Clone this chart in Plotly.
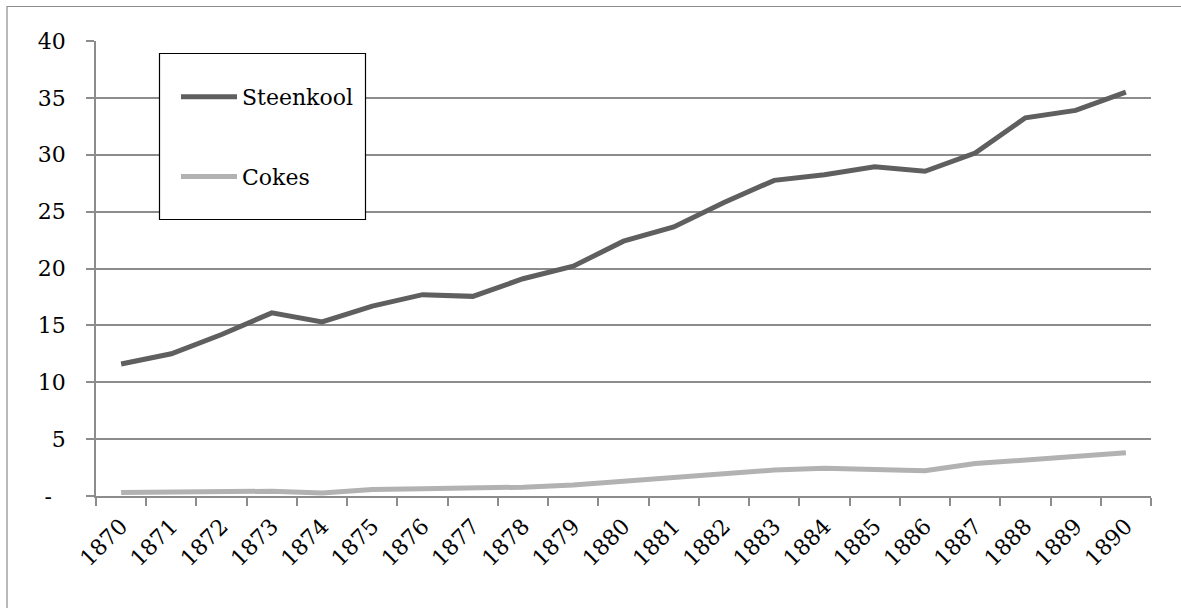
import plotly.graph_objects as go

# Jaarlijkse productie (in miljoenen)
years = [str(y) for y in range(1870, 1891)]
steenkool = [11.6, 12.5, 14.2, 16.1, 15.3, 16.7, 17.7, 17.55, 19.1, 20.2, 22.4,
             23.65, 25.8, 27.75, 28.25, 28.95, 28.55, 30.15, 33.25, 33.9, 35.5]
cokes = [0.30, 0.33, 0.39, 0.42, 0.27, 0.57, 0.63, 0.66, 0.78, 0.96, 1.27,
         1.62, 2.0, 2.28, 2.43, 2.37, 2.22, 2.85, 3.15, 3.42, 3.8]

y_ticks = [0, 5, 10, 15, 20, 25, 30, 35, 40]
y_ticktext = ["-\u00a0\u00a0"] + [str(v) for v in y_ticks[1:]]

FONT = "DejaVu Serif"
GRID = "#8c8c8c"

fig = go.Figure()
fig.add_trace(go.Scatter(
    x=years, y=steenkool, name="Steenkool", mode="lines",
    line=dict(color="#5f5f5f", width=5), legendgroup="a",
))
fig.add_trace(go.Scatter(
    x=years, y=cokes, name="Cokes", mode="lines",
    line=dict(color="#b2b2b2", width=5), legendgroup="b",
))

W, H = 1181, 608
L, R, T, B = 96, 30, 41, 112
pw, ph = W - L - R, H - T - B

def px_x(p):
    return (p - L) / pw

def px_y(p):
    return (H - B - p) / ph

fig.update_layout(
    width=W, height=H,
    margin=dict(l=L, r=R, t=T, b=B),
    paper_bgcolor="white", plot_bgcolor="white",
    font=dict(family=FONT, size=22, color="black"),
    showlegend=True,
    legend=dict(
        x=px_x(176), y=px_y(76), xanchor="left", yanchor="top",
        bgcolor="rgba(0,0,0,0)", borderwidth=0,
        tracegroupgap=48, traceorder="grouped",
        itemwidth=56,
        font=dict(family=FONT, size=22, color="black"),
    ),
    xaxis=dict(
        type="category", range=[-0.5, 20.5],
        tickson="boundaries", ticks="outside", ticklen=8, tickcolor=GRID, tickwidth=1.5,
        showline=True, linecolor=GRID, linewidth=1.5,
        showgrid=False, tickangle=-45, ticklabelstandoff=7,
        tickfont=dict(family=FONT, size=22),
    ),
    yaxis=dict(
        range=[0, 40], tickvals=y_ticks, ticktext=y_ticktext,
        ticks="outside", ticklen=8, tickcolor=GRID, tickwidth=1.5,
        showline=True, linecolor=GRID, linewidth=1.5,
        showgrid=True, gridcolor=GRID, gridwidth=1.5, zeroline=False,
        ticklabelstandoff=16,
        tickfont=dict(family=FONT, size=22),
    ),
    shapes=[
        # outer chart frame
        dict(type="rect", xref="paper", yref="paper",
             x0=px_x(7), x1=px_x(1200), y0=px_y(640), y1=px_y(6.5),
             line=dict(color="#8c8c8c", width=1.2), fillcolor="rgba(0,0,0,0)", layer="below"),
        # legend box
        dict(type="rect", xref="paper", yref="paper",
             x0=px_x(159.5), x1=px_x(365.5), y0=px_y(219.5), y1=px_y(53.5),
             line=dict(color="black", width=1.2), fillcolor="white", layer="above"),
    ],
)

fig.write_html("out.html")
